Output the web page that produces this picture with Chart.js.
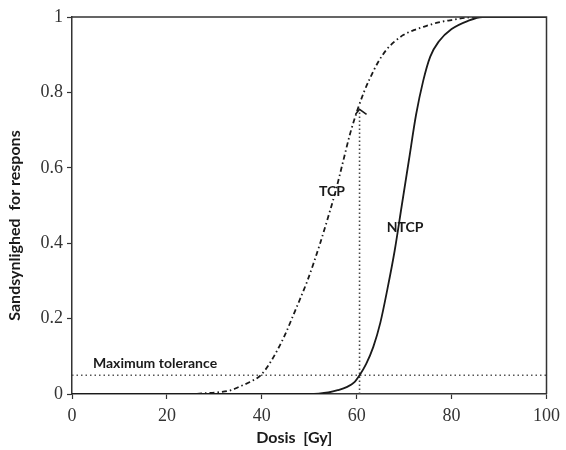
<!DOCTYPE html>
<html>
<head>
<meta charset="utf-8">
<script src="https://cdn.jsdelivr.net/npm/chart.js@4.4.1/dist/chart.umd.min.js"></script>
<style>
html, body { margin: 0; padding: 0; background: #fff; }
#wrap { width: 566px; height: 450px; position: relative; }
</style>
</head>
<body>
<div id="wrap"><canvas id="doseChart"></canvas></div>
<script>
// TCP curve (dash-dot)
const tcpDose = [0, 25, 28, 31, 33.5, 35, 37.5, 39.8, 41.5, 43.3, 45, 46.5, 48, 49.6, 51, 52.3, 54, 55.6, 57, 58.6, 60.2, 61.5, 62.7, 64.5, 66.2, 68, 69.8, 72, 74.6, 77, 80, 83, 85, 100];
const tcpProb = [0, 0, 0.002, 0.005, 0.01, 0.018, 0.032, 0.05, 0.078, 0.117, 0.16, 0.205, 0.25, 0.30, 0.35, 0.40, 0.47, 0.54, 0.61, 0.69, 0.755, 0.80, 0.835, 0.88, 0.912, 0.935, 0.952, 0.965, 0.976, 0.985, 0.992, 0.998, 1, 1];

// NTCP curve (solid)
const ntcpDose = [0, 50, 52, 54, 56, 58, 59.4, 60.6, 62, 63.5, 65, 66.5, 68, 69.5, 71, 72.5, 74, 75.5, 77.3, 80, 83.5, 86.5, 100];
const ntcpProb = [0, 0, 0.001, 0.004, 0.01, 0.019, 0.03, 0.05, 0.08, 0.125, 0.19, 0.28, 0.38, 0.50, 0.62, 0.74, 0.83, 0.895, 0.935, 0.968, 0.99, 1, 1];

// tolerance line + arrow up to TCP
const toleranceDose = [0, 100];
const toleranceProb = [0.05, 0.05];
const arrowDose = [60.6, 60.6];
const arrowProb = [0, 0.755];

const xTicks = [0, 20, 40, 60, 80, 100];
const yTicks = [0, 0.2, 0.4, 0.6, 0.8, 1];

const curveLabels = [
    { text: 'TCP', x: 54.8, y: 0.536 },
    { text: 'NTCP', x: 70.2, y: 0.443 },
    { text: 'Maximum tolerance', x: 17.5, y: 0.082 }
];

const toPoints = (xs, ys) => xs.map((x, i) => ({ x: x, y: ys[i] }));

const ink = '#1a1a1a';
const axisInk = '#333';
const labelFont = "bold 14px Lato, 'Open Sans', sans-serif";
const titleFont = "bold 16px Lato, 'Open Sans', sans-serif";

// frame, arrow head, curve labels, axis titles
const extrasPlugin = {
    id: 'extras',
    afterDatasetsDraw(chart) {
        const { ctx, chartArea: a, scales } = chart;
        ctx.save();
        ctx.strokeStyle = axisInk;
        ctx.lineWidth = 1.5;
        ctx.beginPath();
        ctx.moveTo(a.left, a.top);
        ctx.lineTo(a.right, a.top);
        ctx.lineTo(a.right, a.bottom);
        ctx.stroke();

        // arrow head
        const tx = scales.x.getPixelForValue(arrowDose[1]);
        const ty = scales.y.getPixelForValue(arrowProb[1]);
        ctx.strokeStyle = ink;
        ctx.lineWidth = 1.6;
        ctx.beginPath();
        ctx.moveTo(tx - 4, ty + 5);
        ctx.lineTo(tx, ty);
        ctx.lineTo(tx + 7, ty + 5);
        ctx.stroke();

        ctx.fillStyle = ink;
        ctx.font = labelFont;
        ctx.textAlign = 'center';
        ctx.textBaseline = 'middle';
        curveLabels.forEach(l => {
            ctx.fillText(l.text, scales.x.getPixelForValue(l.x), scales.y.getPixelForValue(l.y));
        });

        ctx.font = titleFont;
        ctx.fillText('Dosis  [Gy]', (a.left + a.right) / 2 - 15, 438);
        ctx.translate(15, (a.top + a.bottom) / 2 + 20);
        ctx.rotate(-Math.PI / 2);
        ctx.fillText('Sandsynlighed  for respons', 0, 0);
        ctx.restore();
    }
};

new Chart(document.getElementById('doseChart'), {
    type: 'line',
    data: {
        datasets: [{
            label: 'TCP',
            data: toPoints(tcpDose, tcpProb),
            borderColor: ink,
            borderWidth: 1.8,
            borderDash: [5, 3, 1.5, 3],
            pointRadius: 0,
            cubicInterpolationMode: 'monotone'
        }, {
            label: 'NTCP',
            data: toPoints(ntcpDose, ntcpProb),
            borderColor: ink,
            borderWidth: 1.8,
            pointRadius: 0,
            cubicInterpolationMode: 'monotone'
        }, {
            label: 'Maximum tolerance',
            data: toPoints(toleranceDose, toleranceProb),
            borderColor: '#555',
            borderWidth: 1.5,
            borderDash: [1.5, 3],
            pointRadius: 0
        }, {
            label: 'Arrow',
            data: toPoints(arrowDose, arrowProb),
            borderColor: '#444',
            borderWidth: 1.6,
            borderDash: [1.5, 2.5],
            pointRadius: 0
        }]
    },
    options: {
        responsive: true,
        maintainAspectRatio: false,
        animation: false,
        layout: { padding: { top: 17, right: 14, left: 0, bottom: 0 } },
        plugins: {
            legend: { display: false },
            tooltip: { enabled: false }
        },
        scales: {
            x: {
                type: 'linear',
                min: 0,
                max: 100,
                afterFit: s => { s.height = 56; },
                afterBuildTicks: s => { s.ticks = xTicks.map(v => ({ value: v })); },
                grid: { drawOnChartArea: false, tickLength: 5, tickColor: axisInk, tickWidth: 1.2 },
                border: { display: true, color: axisInk, width: 1.5 },
                ticks: { color: '#333', padding: 6, font: { family: "'Liberation Serif', serif", size: 18 } }
            },
            y: {
                type: 'linear',
                min: 0,
                max: 1,
                afterFit: s => { s.width = 72; },
                afterBuildTicks: s => { s.ticks = yTicks.map(v => ({ value: v })); },
                grid: { drawOnChartArea: false, tickLength: 5, tickColor: axisInk, tickWidth: 1.2 },
                border: { display: true, color: axisInk, width: 1.5 },
                ticks: {
                    color: '#333',
                    padding: 4,
                    font: { family: "'Liberation Serif', serif", size: 18 },
                    callback: v => String(Math.round(v * 10) / 10)
                }
            }
        }
    },
    plugins: [extrasPlugin]
});
</script>
</body>
</html>
